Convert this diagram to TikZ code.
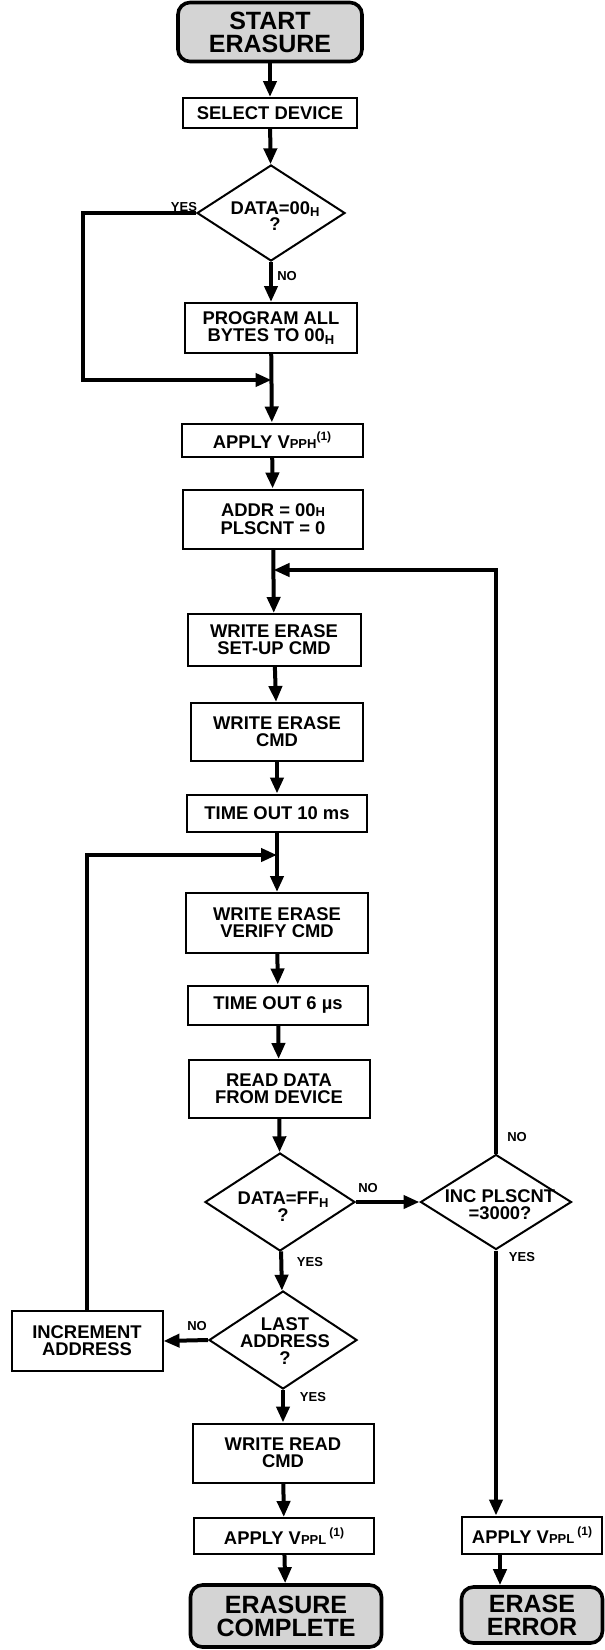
\documentclass[tikz,border=0pt]{standalone}
\usepackage{fontspec}
\setmainfont{Liberation Sans}
\usetikzlibrary{shapes.geometric,arrows.meta}
\newcommand{\hsub}[1]{\raisebox{-0.3ex}{\fontsize{6.5}{6.5}\selectfont #1}}
\newcommand{\smc}[1]{{\fontsize{6.5}{6.5}\selectfont #1}}
\newcommand{\noteone}{\raisebox{0.85ex}{\fontsize{6}{6}\selectfont (1)}}
\newcommand{\boxfont}{\fontsize{9.2}{8.4}\selectfont\bfseries}
\newcommand{\termfont}{\fontsize{12.5}{11.5}\selectfont\bfseries}
\newcommand{\lblfont}{\fontsize{6.5}{7}\selectfont\bfseries}
\tikzset{
 box/.style={draw, line width=1pt, align=center, inner sep=0pt, font=\boxfont},
 term/.style={draw, line width=1.8pt, rounded corners=6pt, fill=black!17, align=center, inner sep=0pt, font=\termfont},
 dia/.style={draw, diamond, line width=1pt, inner sep=0pt},
 dtxt/.style={align=center, inner sep=0pt, font=\boxfont},
 conn/.style={line width=2pt, -{Triangle[length=8pt,width=6.5pt]}},
 lbl/.style={inner sep=0pt, font=\lblfont},
}
\begin{document}
\begin{tikzpicture}[x=0.5pt,y=-0.5pt]
\useasboundingbox (0,0) rectangle (605,1650);
% nodes
\node[term, minimum width=92pt, minimum height=29.5pt] (start) at (270,32) {START\\ERASURE};
\node[box, minimum width=87pt, minimum height=15pt] (sel) at (270,113) {SELECT DEVICE};
\node[dia, minimum width=74pt, minimum height=48pt] (d1) at (271,213) {};
\node[dtxt] (d1t) at (275,216) {DATA=00\hsub{H}\\?};
\node[box, minimum width=86pt, minimum height=25pt] (prog) at (271,328) {PROGRAM ALL\\ BYTES TO 00\hsub{H}};
\node[box, minimum width=90.5pt, minimum height=16.5pt] (vpph) at (272,440) {APPLY V\smc{PPH}\noteone};
\node[box, minimum width=90pt, minimum height=29.5pt] (addr) at (273,519) {ADDR = 00\smc{H}\\[0.3pt]PLSCNT = 0};
\node[box, minimum width=86.5pt, minimum height=26pt] (wes) at (274,640) {WRITE ERASE\\SET-UP CMD};
\node[box, minimum width=86pt, minimum height=29pt] (wec) at (277,732) {WRITE ERASE\\CMD};
\node[box, minimum width=90pt, minimum height=18.5pt] (to10) at (277,813) {TIME OUT 10 ms};
\node[box, minimum width=91pt, minimum height=30pt] (wev) at (277,923) {WRITE ERASE\\VERIFY CMD};
\node[box, minimum width=90pt, minimum height=19.5pt] (to6) at (278,1005) {TIME OUT 6 µs};
\node[box, minimum width=90.5pt, minimum height=29pt] (rd) at (279,1089) {READ DATA\\FROM DEVICE};
\node[dia, minimum width=75pt, minimum height=49pt] (d2) at (280,1202) {};
\node[dtxt] (d2t) at (283,1207) {DATA=FF\hsub{H}\\?};
\node[dia, minimum width=75.5pt, minimum height=47.5pt] (d3) at (496,1202) {};
\node[dtxt] (d3t) at (500,1205) {INC PLSCNT\\=3000?};
\node[dia, minimum width=74pt, minimum height=49pt] (d4) at (283,1340) {};
\node[dtxt] (d4t) at (285,1341) {LAST\\ADDRESS\\?};
\node[box, minimum width=75.5pt, minimum height=30pt] (inc) at (87,1341) {INCREMENT\\ADDRESS};
\node[box, minimum width=90.5pt, minimum height=29.5pt] (wrc) at (283,1453) {WRITE READ\\CMD};
\node[box, minimum width=90pt, minimum height=18pt] (vppl1) at (284,1536) {APPLY V\smc{PPL}\,\noteone};
\node[term, minimum width=95.5pt, minimum height=31pt] (done) at (286,1616) {ERASURE\\COMPLETE};
\node[box, minimum width=70pt, minimum height=18.5pt] (vppl2) at (532,1535) {APPLY V\smc{PPL}\,\noteone};
\node[term, minimum width=70.5pt, minimum height=28pt] (err) at (532,1615) {ERASE\\ERROR};
% junctions
\coordinate (yl) at (83,380);
\coordinate (j1) at (271.5,380);
\coordinate (rl) at (496,570);
\coordinate (j2) at (273.5,570);
\coordinate (ll) at (87,855);
\coordinate (j3) at (277,855);
% connectors
\draw[conn] (start) -- (sel);
\draw[conn] (sel) -- (d1);
\draw[conn] (d1) -- (prog);
\draw[conn] (d1.west) -| (yl) -- (j1);
\draw[conn] (prog) -- (vpph);
\draw[conn] (vpph) -- (addr);
\draw[conn] (addr) -- (wes);
\draw[conn] (d3.north) -- (rl) -- (j2);
\draw[conn] (wes) -- (wec);
\draw[conn] (wec) -- (to10);
\draw[conn] (to10) -- (wev);
\draw[conn] (inc.north) -- (ll) -- (j3);
\draw[conn] (wev) -- (to6);
\draw[conn] (to6) -- (rd);
\draw[conn] (rd) -- (d2);
\draw[conn] (d2.east) -- (d3.west);
\draw[conn] (d2) -- (d4);
\draw[conn] (d4.west) -- (inc.east);
\draw[conn] (d4) -- (wrc);
\draw[conn] (wrc) -- (vppl1);
\draw[conn] (vppl1) -- (done);
\draw[conn] (d3.south) -- (d3.south |- vppl2.north);
\draw[conn] ([xshift=-16pt]vppl2.south) -- ([xshift=-16pt]err.north);
% labels
\node[lbl] (l1) at (184,207) {YES};
\node[lbl] (l2) at (287,276) {NO};
\node[lbl] (l3) at (368,1188) {NO};
\node[lbl] (l4) at (310,1262) {YES};
\node[lbl] (l5) at (517,1137) {NO};
\node[lbl] (l6) at (522,1257) {YES};
\node[lbl] (l7) at (197,1326) {NO};
\node[lbl] (l8) at (313,1397) {YES};
\end{tikzpicture}
\end{document}
